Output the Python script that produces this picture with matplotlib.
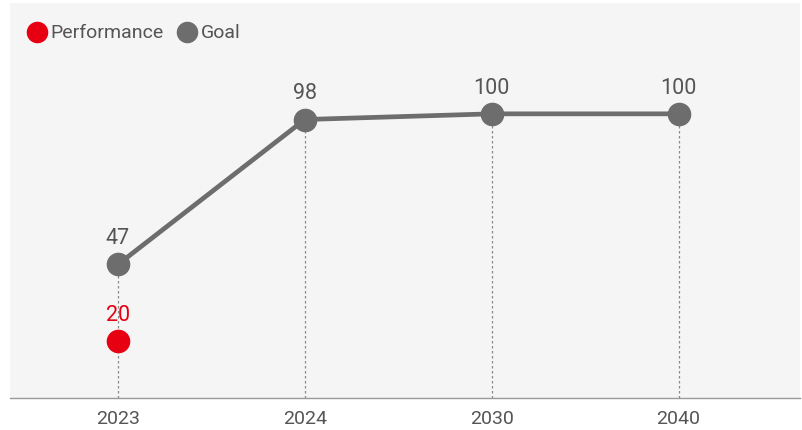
import matplotlib
matplotlib.use("Agg")
import matplotlib.pyplot as plt
from matplotlib.lines import Line2D

plt.rcParams['font.family'] = ['Roboto', 'DejaVu Sans']

years = ["2023", "2024", "2030", "2040"]
goal = [47, 98, 100, 100]
performance_years = ["2023"]
performance = [20]

RED = "#e60012"
GRAY = "#6d6d6d"
TEXT = "#555555"

fig = plt.figure(figsize=(8.03, 4.30), dpi=100)
ax = fig.add_axes([10 / 803, 32 / 430, 790 / 803, 395 / 430])
ax.set_facecolor("#f5f5f5")

xs = list(range(len(years)))
perf_x = [years.index(y) for y in performance_years]

# dotted drop lines from each mark to the baseline
for x, v in zip(xs, goal):
    ax.plot([x, x], [0, v], color="#8a8a8a", lw=0.9, ls=(0, (2, 2)), zorder=1)

ax.plot(xs, goal, color=GRAY, lw=3.4, marker="o", ms=16, zorder=3,
        solid_capstyle="round")
ax.plot(perf_x, performance, color=RED, lw=0, marker="o", ms=16, zorder=4)

for x, v in zip(xs, goal):
    ax.annotate(f"{v}", (x, v), xytext=(0, 11), textcoords="offset points",
                ha="center", va="bottom", fontsize=15.5, color=TEXT)
for x, v in zip(perf_x, performance):
    ax.annotate(f"{v}", (x, v), xytext=(0, 11), textcoords="offset points",
                ha="center", va="bottom", fontsize=15.5, color=RED)

ax.set_xlim(-0.578, 3.65)
ax.set_ylim(0, 139)
ax.set_xticks(xs)
ax.set_xticklabels(years, fontsize=14, color=TEXT)
ax.set_yticks([])
ax.tick_params(axis="x", length=0, pad=9)
for s in ["top", "left", "right"]:
    ax.spines[s].set_visible(False)
ax.spines["bottom"].set_color("#999999")
ax.spines["bottom"].set_linewidth(1.0)

handles = [
    Line2D([], [], color=RED, marker="o", ls="", ms=14.5, label="Performance"),
    Line2D([], [], color=GRAY, marker="o", ls="", ms=14.5, label="Goal"),
]
ax.legend(handles=handles, loc="upper left", bbox_to_anchor=(0.0, 0.99),
          frameon=False, ncol=2, fontsize=14, handletextpad=0.2,
          columnspacing=0.7, borderaxespad=0.5, handlelength=1.0,
          borderpad=0.4, labelcolor=TEXT)

fig.savefig("out.png", dpi=100, facecolor="white")
